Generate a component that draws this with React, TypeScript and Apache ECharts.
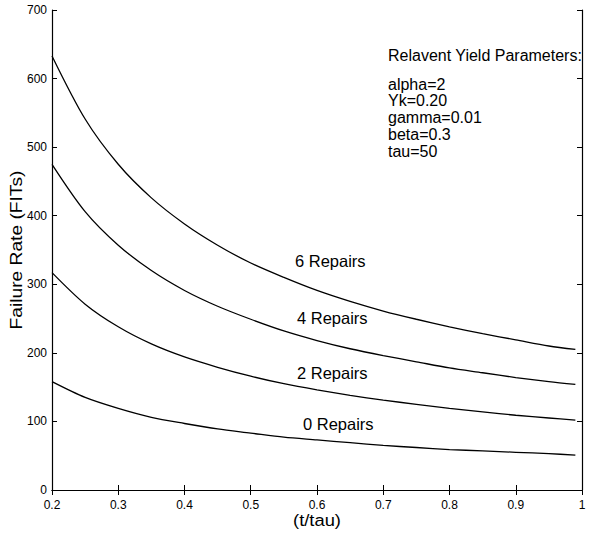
import React, { useEffect, useRef } from "react";
import * as echarts from "echarts";

const tValues = [0.2, 0.25, 0.3, 0.35, 0.4, 0.45, 0.5, 0.55, 0.6, 0.65, 0.7, 0.75, 0.8, 0.85, 0.9, 0.95, 0.99];
const repairs6 = [633, 541, 475, 426, 388, 357, 331, 310, 291, 275, 261, 249, 238, 228, 219, 210, 205];
const repairs4 = [475, 406, 357, 320, 291, 268, 249, 232, 218, 206, 196, 187, 178, 171, 164, 158, 154];
const repairs2 = [317, 271, 238, 213, 194, 179, 166, 155, 146, 138, 131, 125, 119, 114, 109, 105, 102];
const repairs0 = [158, 135, 119, 106, 97, 89, 83, 77, 73, 69, 65, 62, 59, 57, 55, 53, 51];

const seriesNames = ["6 Repairs", "4 Repairs", "2 Repairs", "0 Repairs"];
const paramTitle = "Relavent Yield Parameters:";
const paramLines = ["alpha=2", "Yk=0.20", "gamma=0.01", "beta=0.3", "tau=50"];
const xTitle = "(t/tau)";
const yTitle = "Failure Rate (FITs)";

const FONT = "'Liberation Sans', Arial, Helvetica, sans-serif";

export default function App() {
  const ref = useRef<HTMLDivElement>(null);
  useEffect(() => {
    if (!ref.current) return;
    const chart = echarts.init(ref.current, undefined, { renderer: "svg" });
    const mk = (name: string, vals: number[]) => ({
      name,
      type: "line",
      data: tValues.map((t, i) => [t, vals[i]]),
      showSymbol: false,
      smooth: 0.3,
      lineStyle: { color: "#000", width: 1.3 },
      silent: true,
    });
    const tickStyle = { inside: true, length: 5, lineStyle: { color: "#000", width: 1 } };
    const lineStyle = { lineStyle: { color: "#000", width: 1.2 } };
    const txt = (text: string, x: number, y: number, fontSize: number, extra: any = {}) => ({
      type: "text",
      x,
      y,
      silent: true,
      ...extra,
      style: {
        text,
        fontSize,
        fontFamily: FONT,
        fill: "#000",
        verticalAlign: "middle",
        align: extra.align || "left",
      },
    });
    chart.setOption({
      animation: false,
      backgroundColor: "#fff",
      textStyle: { fontFamily: FONT },
      grid: { left: 52, right: 10, top: 10, bottom: 45, containLabel: false, outerBoundsMode: "none" },
      xAxis: [
        {
          type: "value",
          min: 0.2,
          max: 1.0,
          interval: 0.1,
          position: "bottom",
          axisLine: { show: true, ...lineStyle },
          axisTick: tickStyle,
          splitLine: { show: false },
          axisLabel: {
            color: "#000",
            fontSize: 12,
            fontFamily: FONT,
            margin: 9,
            formatter: (v: number) => String(Number(v.toFixed(1))),
          },
        },
        {
          type: "value",
          min: 0.2,
          max: 1.0,
          interval: 0.1,
          position: "top",
          axisLine: { show: true, ...lineStyle },
          axisTick: tickStyle,
          splitLine: { show: false },
          axisLabel: { show: false },
        },
      ],
      yAxis: [
        {
          type: "value",
          min: 0,
          max: 700,
          interval: 100,
          position: "left",
          axisLine: { show: true, ...lineStyle },
          axisTick: tickStyle,
          splitLine: { show: false },
          axisLabel: { color: "#000", fontSize: 12, fontFamily: FONT, margin: 5 },
        },
        {
          type: "value",
          min: 0,
          max: 700,
          interval: 100,
          position: "right",
          axisLine: { show: true, ...lineStyle },
          axisTick: tickStyle,
          splitLine: { show: false },
          axisLabel: { show: false },
        },
      ],
      series: [
        mk(seriesNames[0], repairs6),
        mk(seriesNames[1], repairs4),
        mk(seriesNames[2], repairs2),
        mk(seriesNames[3], repairs0),
      ],
      graphic: [
        txt(seriesNames[0], 295, 261, 16.5),
        txt(seriesNames[1], 297, 318, 16.5),
        txt(seriesNames[2], 297, 373, 16.5),
        txt(seriesNames[3], 303, 424, 16.5),
        txt(paramTitle, 388, 55, 16),
        ...paramLines.map((s, i) => txt(s, 388, 84 + i * 16.8, 16)),
        txt(xTitle, 317, 520, 17, { align: "center", scaleX: 1.08 }),
        txt(yTitle, 16.5, 250, 16, { align: "center", rotation: Math.PI / 2, scaleX: 1.2 }),
      ],
    });
    return () => chart.dispose();
  }, []);
  return (
    <div
      ref={ref}
      style={{ position: "fixed", left: 0, top: 0, width: 592, height: 535, background: "#fff" }}
    />
  );
}
